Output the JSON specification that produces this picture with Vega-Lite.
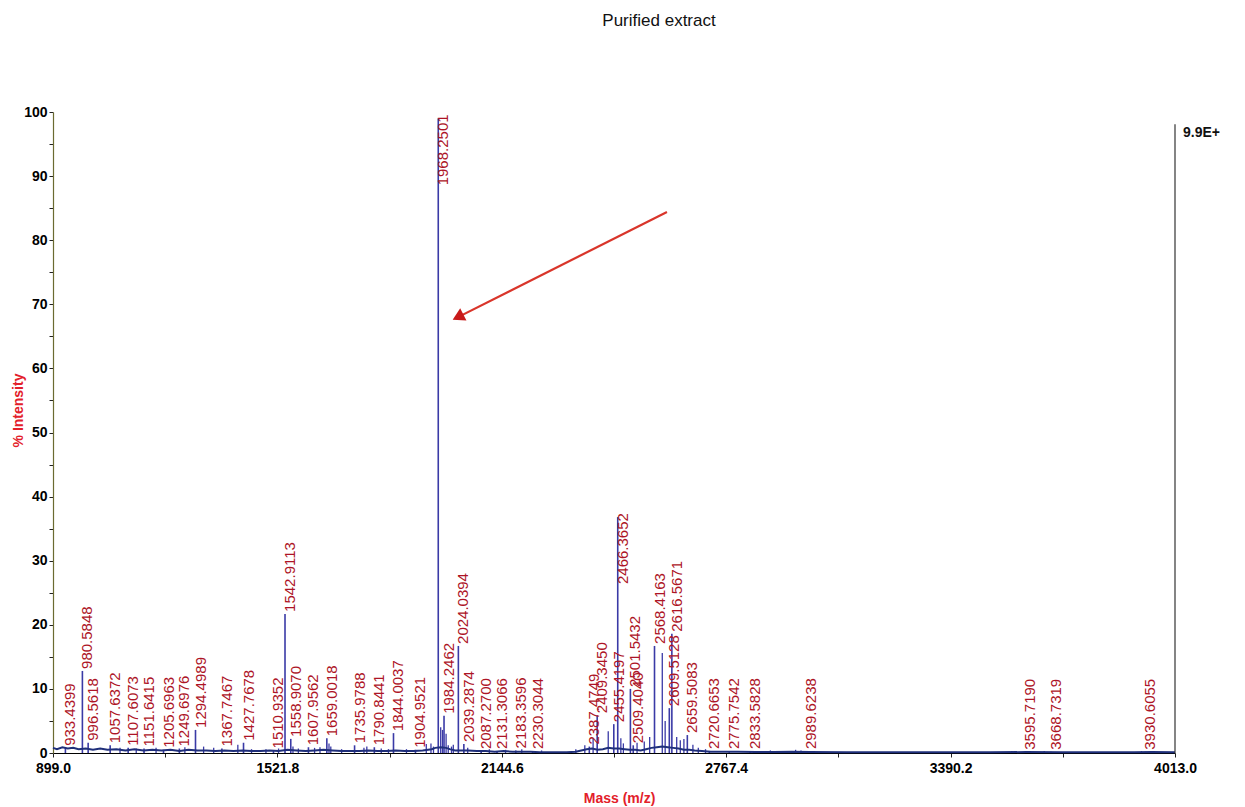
{
  "$schema": "https://vega.github.io/schema/vega-lite/v6.json",
  "width": 1122,
  "height": 641,
  "autosize": {"type": "none"},
  "padding": {"left": 53, "top": 112, "right": 70, "bottom": 54},
  "background": "white",
  "title": {
    "text": "Purified extract",
    "font": "Liberation Sans",
    "fontSize": 17,
    "fontWeight": "normal",
    "color": "#111111",
    "anchor": "middle",
    "offset": 75,
    "dx": 45
  },
  "config": {"view": {"stroke": null}, "font": "Liberation Sans"},
  "datasets": {
    "labelled": [
      {"mz": 933.4399, "intensity": 0.8},
      {"mz": 980.5848, "intensity": 12.8},
      {"mz": 996.5618, "intensity": 1.6},
      {"mz": 1057.6372, "intensity": 1.2},
      {"mz": 1107.6073, "intensity": 0.8},
      {"mz": 1151.6415, "intensity": 0.7},
      {"mz": 1205.6963, "intensity": 0.5},
      {"mz": 1249.6976, "intensity": 0.7},
      {"mz": 1294.4989, "intensity": 3.6},
      {"mz": 1367.7467, "intensity": 0.7},
      {"mz": 1427.7678, "intensity": 1.6},
      {"mz": 1510.9352, "intensity": 0.4},
      {"mz": 1542.9113, "intensity": 21.7},
      {"mz": 1558.907, "intensity": 2.2},
      {"mz": 1607.9562, "intensity": 0.9},
      {"mz": 1659.0018, "intensity": 2.3},
      {"mz": 1735.9788, "intensity": 1.2},
      {"mz": 1790.8441, "intensity": 0.9},
      {"mz": 1844.0037, "intensity": 3.1},
      {"mz": 1904.9521, "intensity": 0.5},
      {"mz": 1968.2501, "intensity": 99.0},
      {"mz": 1984.2462, "intensity": 5.8},
      {"mz": 2024.0394, "intensity": 16.7},
      {"mz": 2039.2874, "intensity": 1.4},
      {"mz": 2087.27, "intensity": 0.3},
      {"mz": 2131.3066, "intensity": 0.3},
      {"mz": 2183.3596, "intensity": 0.4},
      {"mz": 2230.3044, "intensity": 0.3},
      {"mz": 2387.4749, "intensity": 1.0},
      {"mz": 2409.345, "intensity": 5.9},
      {"mz": 2455.4197, "intensity": 4.5},
      {"mz": 2466.3652, "intensity": 36.8},
      {"mz": 2501.5432, "intensity": 10.0},
      {"mz": 2509.404, "intensity": 1.2},
      {"mz": 2568.4163, "intensity": 16.7},
      {"mz": 2609.5128, "intensity": 7.0},
      {"mz": 2616.5671, "intensity": 18.6},
      {"mz": 2659.5083, "intensity": 2.8},
      {"mz": 2720.6653, "intensity": 0.3},
      {"mz": 2775.7542, "intensity": 0.3},
      {"mz": 2833.5828, "intensity": 0.3},
      {"mz": 2989.6238, "intensity": 0.3},
      {"mz": 3595.719, "intensity": 0.2},
      {"mz": 3668.7319, "intensity": 0.2},
      {"mz": 3930.6055, "intensity": 0.2}
    ],
    "minor": [
      {"mz": 1085, "intensity": 0.8}, {"mz": 1130, "intensity": 0.7},
      {"mz": 1185, "intensity": 0.8}, {"mz": 1265, "intensity": 0.9},
      {"mz": 1317, "intensity": 1.0}, {"mz": 1345, "intensity": 0.8},
      {"mz": 1412, "intensity": 1.3}, {"mz": 1450, "intensity": 0.6},
      {"mz": 1490, "intensity": 0.6}, {"mz": 1525, "intensity": 0.7},
      {"mz": 1565, "intensity": 1.0}, {"mz": 1580, "intensity": 0.7},
      {"mz": 1625, "intensity": 0.8}, {"mz": 1640, "intensity": 0.9},
      {"mz": 1665, "intensity": 1.5}, {"mz": 1670, "intensity": 1.0},
      {"mz": 1700, "intensity": 0.6}, {"mz": 1762, "intensity": 0.8},
      {"mz": 1770, "intensity": 1.0}, {"mz": 1810, "intensity": 0.7},
      {"mz": 1830, "intensity": 0.6}, {"mz": 1880, "intensity": 0.6},
      {"mz": 1935, "intensity": 1.4}, {"mz": 1948, "intensity": 1.5},
      {"mz": 1955, "intensity": 1.0}, {"mz": 1975, "intensity": 4.0},
      {"mz": 1980, "intensity": 3.6}, {"mz": 1990, "intensity": 3.0},
      {"mz": 1996, "intensity": 1.2}, {"mz": 2005, "intensity": 1.0},
      {"mz": 2010, "intensity": 1.3}, {"mz": 2050, "intensity": 0.8},
      {"mz": 2110, "intensity": 0.6}, {"mz": 2155, "intensity": 0.5},
      {"mz": 2200, "intensity": 0.6}, {"mz": 2255, "intensity": 0.4},
      {"mz": 2350, "intensity": 0.6}, {"mz": 2375, "intensity": 1.2},
      {"mz": 2398, "intensity": 2.3}, {"mz": 2440, "intensity": 3.4},
      {"mz": 2475, "intensity": 2.3}, {"mz": 2482, "intensity": 1.5},
      {"mz": 2520, "intensity": 1.6}, {"mz": 2540, "intensity": 1.8},
      {"mz": 2555, "intensity": 2.5}, {"mz": 2590, "intensity": 15.6},
      {"mz": 2598, "intensity": 5.0}, {"mz": 2630, "intensity": 2.5},
      {"mz": 2640, "intensity": 2.0}, {"mz": 2650, "intensity": 2.2},
      {"mz": 2675, "intensity": 1.3}, {"mz": 2690, "intensity": 0.8},
      {"mz": 2710, "intensity": 0.6}, {"mz": 2890, "intensity": 0.4},
      {"mz": 2960, "intensity": 0.5}, {"mz": 2975, "intensity": 0.4},
      {"mz": 3560, "intensity": 0.3}, {"mz": 3650, "intensity": 0.3},
      {"mz": 3920, "intensity": 0.3}
    ],
    "baseline": [
      {"mz": 899, "intensity": 0.8}, {"mz": 910, "intensity": 0.6}, {"mz": 925, "intensity": 0.9},
      {"mz": 940, "intensity": 0.7}, {"mz": 955, "intensity": 0.8}, {"mz": 970, "intensity": 0.6},
      {"mz": 990, "intensity": 0.7}, {"mz": 1010, "intensity": 0.5}, {"mz": 1030, "intensity": 0.7},
      {"mz": 1050, "intensity": 0.5}, {"mz": 1075, "intensity": 0.6}, {"mz": 1100, "intensity": 0.4},
      {"mz": 1125, "intensity": 0.6}, {"mz": 1150, "intensity": 0.4}, {"mz": 1175, "intensity": 0.5},
      {"mz": 1200, "intensity": 0.4}, {"mz": 1225, "intensity": 0.5}, {"mz": 1250, "intensity": 0.3},
      {"mz": 1275, "intensity": 0.5}, {"mz": 1300, "intensity": 0.4}, {"mz": 1325, "intensity": 0.4},
      {"mz": 1350, "intensity": 0.3}, {"mz": 1375, "intensity": 0.4}, {"mz": 1400, "intensity": 0.3},
      {"mz": 1425, "intensity": 0.4}, {"mz": 1450, "intensity": 0.3}, {"mz": 1475, "intensity": 0.3},
      {"mz": 1500, "intensity": 0.4}, {"mz": 1525, "intensity": 0.3}, {"mz": 1550, "intensity": 0.5},
      {"mz": 1575, "intensity": 0.4}, {"mz": 1600, "intensity": 0.3}, {"mz": 1625, "intensity": 0.4},
      {"mz": 1650, "intensity": 0.5}, {"mz": 1675, "intensity": 0.4}, {"mz": 1700, "intensity": 0.3},
      {"mz": 1725, "intensity": 0.3}, {"mz": 1750, "intensity": 0.3}, {"mz": 1775, "intensity": 0.4},
      {"mz": 1800, "intensity": 0.3}, {"mz": 1825, "intensity": 0.3}, {"mz": 1850, "intensity": 0.4},
      {"mz": 1875, "intensity": 0.3}, {"mz": 1900, "intensity": 0.3}, {"mz": 1925, "intensity": 0.4},
      {"mz": 1950, "intensity": 0.6}, {"mz": 1960, "intensity": 0.8}, {"mz": 1975, "intensity": 0.9},
      {"mz": 1990, "intensity": 0.8}, {"mz": 2000, "intensity": 0.6}, {"mz": 2015, "intensity": 0.4},
      {"mz": 2030, "intensity": 0.4}, {"mz": 2050, "intensity": 0.4}, {"mz": 2075, "intensity": 0.3},
      {"mz": 2100, "intensity": 0.3}, {"mz": 2125, "intensity": 0.2}, {"mz": 2150, "intensity": 0.3},
      {"mz": 2175, "intensity": 0.2}, {"mz": 2200, "intensity": 0.2}, {"mz": 2225, "intensity": 0.2},
      {"mz": 2250, "intensity": 0.1}, {"mz": 2275, "intensity": 0.1}, {"mz": 2300, "intensity": 0.1},
      {"mz": 2325, "intensity": 0.1}, {"mz": 2350, "intensity": 0.2}, {"mz": 2365, "intensity": 0.4},
      {"mz": 2380, "intensity": 0.6}, {"mz": 2395, "intensity": 0.7}, {"mz": 2410, "intensity": 0.5},
      {"mz": 2425, "intensity": 0.6}, {"mz": 2440, "intensity": 0.8}, {"mz": 2455, "intensity": 0.7},
      {"mz": 2470, "intensity": 0.7}, {"mz": 2485, "intensity": 0.6}, {"mz": 2500, "intensity": 0.5},
      {"mz": 2515, "intensity": 0.5}, {"mz": 2530, "intensity": 0.4}, {"mz": 2545, "intensity": 0.6},
      {"mz": 2560, "intensity": 0.8}, {"mz": 2575, "intensity": 0.9}, {"mz": 2590, "intensity": 1.0},
      {"mz": 2605, "intensity": 0.9}, {"mz": 2620, "intensity": 0.8}, {"mz": 2635, "intensity": 0.7},
      {"mz": 2650, "intensity": 0.5}, {"mz": 2665, "intensity": 0.5}, {"mz": 2680, "intensity": 0.4},
      {"mz": 2700, "intensity": 0.3}, {"mz": 2725, "intensity": 0.2}, {"mz": 2750, "intensity": 0.2},
      {"mz": 2800, "intensity": 0.2}, {"mz": 2850, "intensity": 0.15}, {"mz": 2900, "intensity": 0.15},
      {"mz": 2950, "intensity": 0.2}, {"mz": 3000, "intensity": 0.15}, {"mz": 3100, "intensity": 0.1},
      {"mz": 3200, "intensity": 0.1}, {"mz": 3300, "intensity": 0.1}, {"mz": 3400, "intensity": 0.1},
      {"mz": 3500, "intensity": 0.1}, {"mz": 3600, "intensity": 0.15}, {"mz": 3700, "intensity": 0.1},
      {"mz": 3800, "intensity": 0.1}, {"mz": 3900, "intensity": 0.1}, {"mz": 3950, "intensity": 0.15},
      {"mz": 4013, "intensity": 0.1}
    ],
    "scaleMarker": [{"mz": 4013, "intensity": 98.1}],
    "scaleNote": [{"mz": 4013, "intensity": 96.7, "note": "9.9E+"}],
    "arrow": [
      {"mz": 2603, "intensity": 84.4, "part": "tail"},
      {"mz": 2023, "intensity": 68.0, "part": "head"}
    ]
  },
  "encoding": {
    "x": {
      "field": "mz",
      "type": "quantitative",
      "scale": {"domain": [899, 4013], "nice": false, "zero": false},
      "axis": {
        "title": "Mass (m/z)",
        "values": [899, 1210.4, 1521.8, 1833.2, 2144.6, 2456.0, 2767.4, 3078.8, 3390.2, 3701.6, 4013],
        "labelExpr": "indexof(['899.0','1521.8','2144.6','2767.4','3390.2','4013.0'], format(datum.value, '.1f')) >= 0 ? format(datum.value, '.1f') : ''",
        "labelFlush": false,
        "labelOverlap": false,
        "labelBound": false,
        "labelFont": "Liberation Sans",
        "labelFontSize": 14,
        "labelFontWeight": "bold",
        "labelColor": "#000000",
        "labelPadding": 4,
        "tickSize": 4,
        "tickColor": "#222222",
        "domainColor": "#000000",
        "domainWidth": 1,
        "grid": false,
        "titleFont": "Liberation Sans",
        "titleFontSize": 14,
        "titleFontWeight": "bold",
        "titleColor": "#e3202a",
        "titleX": 566,
        "titleY": 45,
        "titleAlign": "center",
        "titleBaseline": "middle"
      }
    },
    "y": {
      "field": "intensity",
      "type": "quantitative",
      "scale": {"domain": [0, 100], "nice": false},
      "axis": {
        "title": "% Intensity",
        "values": [0, 5, 10, 15, 20, 25, 30, 35, 40, 45, 50, 55, 60, 65, 70, 75, 80, 85, 90, 95, 100],
        "labelExpr": "datum.value % 10 === 0 ? datum.value : ''",
        "labelOverlap": false,
        "labelFont": "Liberation Sans",
        "labelFontSize": 14,
        "labelFontWeight": "bold",
        "labelColor": "#000000",
        "labelPadding": 2,
        "tickSize": 4,
        "tickColor": "#222222",
        "domainColor": "#6b6b30",
        "domainWidth": 1.2,
        "grid": false,
        "titleFont": "Liberation Sans",
        "titleFontSize": 14,
        "titleFontWeight": "bold",
        "titleColor": "#e3202a",
        "titleAngle": 270,
        "titleX": -35,
        "titleY": 298,
        "titleAlign": "center",
        "titleBaseline": "middle"
      }
    }
  },
  "layer": [
    {
      "data": {"name": "minor"},
      "mark": {"type": "rule", "color": "#3a3aa6", "strokeWidth": 1.3},
      "encoding": {"y2": {"datum": 0}}
    },
    {
      "data": {"name": "labelled"},
      "mark": {"type": "rule", "color": "#3a3aa6", "strokeWidth": 1.6},
      "encoding": {"y2": {"datum": 0}}
    },
    {
      "data": {"name": "baseline"},
      "mark": {"type": "line", "color": "#1f2f7a", "strokeWidth": 2.0}
    },
    {
      "data": {"name": "labelled"},
      "transform": [{"filter": {"field": "intensity", "lt": 30}}],
      "mark": {
        "type": "text",
        "angle": 270,
        "align": "left",
        "baseline": "middle",
        "dx": 2,
        "dy": 5,
        "font": "Liberation Sans",
        "fontSize": 15,
        "color": "#ad1426"
      },
      "encoding": {"text": {"field": "mz", "type": "quantitative", "format": ".4f"}}
    },
    {
      "data": {"name": "labelled"},
      "transform": [{"filter": {"field": "intensity", "gte": 30}}],
      "mark": {
        "type": "text",
        "angle": 270,
        "align": "right",
        "baseline": "middle",
        "dx": 4,
        "dy": 5,
        "font": "Liberation Sans",
        "fontSize": 15,
        "color": "#ad1426"
      },
      "encoding": {"text": {"field": "mz", "type": "quantitative", "format": ".4f"}}
    },
    {
      "data": {"name": "scaleMarker"},
      "mark": {"type": "rule", "color": "#333333", "strokeWidth": 1.2},
      "encoding": {"y2": {"datum": 0}}
    },
    {
      "data": {"name": "scaleNote"},
      "mark": {
        "type": "text",
        "align": "left",
        "baseline": "middle",
        "dx": 8,
        "font": "Liberation Sans",
        "fontSize": 14,
        "fontWeight": "bold",
        "color": "#111111"
      },
      "encoding": {"text": {"field": "note"}}
    },
    {
      "data": {"name": "arrow"},
      "mark": {"type": "line", "color": "#d9352a", "strokeWidth": 2.2},
      "encoding": {"order": {"field": "intensity", "type": "quantitative"}}
    },
    {
      "data": {"name": "arrow"},
      "transform": [{"filter": {"field": "part", "equal": "head"}}],
      "mark": {
        "type": "point",
        "shape": "triangle-up",
        "angle": 243,
        "size": 190,
        "filled": true,
        "opacity": 1,
        "color": "#c81a1a"
      }
    }
  ]
}
